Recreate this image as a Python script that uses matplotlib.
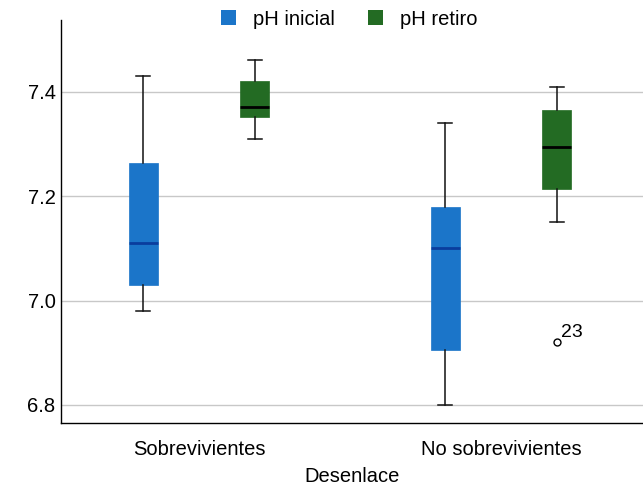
import matplotlib.pyplot as plt

plt.rcParams['font.family'] = ['Liberation Sans', 'DejaVu Sans']

groups = ['Sobrevivientes', 'No sobrevivientes']
series = ['pH inicial', 'pH retiro']
colors = ['#1b75c9', '#236b23']
median_colors = ['#0a3d9e', '#000000']

# per series: one value per group
whis_lo = {'pH inicial': [6.98, 6.80], 'pH retiro': [7.31, 7.15]}
q1 = {'pH inicial': [7.03, 6.905], 'pH retiro': [7.352, 7.213]}
med = {'pH inicial': [7.111, 7.10], 'pH retiro': [7.371, 7.294]}
q3 = {'pH inicial': [7.263, 7.179], 'pH retiro': [7.421, 7.365]}
whis_hi = {'pH inicial': [7.43, 7.34], 'pH retiro': [7.462, 7.41]}
fliers = {'pH inicial': [[], []], 'pH retiro': [[], [6.92]]}
flier_labels = {'pH inicial': [[], []], 'pH retiro': [[], ['23']]}

fig = plt.figure(figsize=(6.43, 4.88), dpi=100)
ax = fig.add_axes([0.095, 0.133, 0.905, 0.826])

offsets = [-0.185, 0.185]
width = 0.096
for s, name in enumerate(series):
    stats = []
    for g in range(len(groups)):
        stats.append(dict(whislo=whis_lo[name][g], q1=q1[name][g], med=med[name][g],
                          q3=q3[name][g], whishi=whis_hi[name][g], fliers=fliers[name][g]))
    pos = [g + offsets[s] for g in range(len(groups))]
    ax.bxp(stats, positions=pos, widths=width, patch_artist=True, showfliers=True,
           boxprops=dict(facecolor=colors[s], edgecolor=colors[s], linewidth=0.5),
           medianprops=dict(color=median_colors[s], linewidth=2),
           whiskerprops=dict(color='#111111', linewidth=1.1),
           capprops=dict(color='#111111', linewidth=1.1),
           capwidths=0.046,
           flierprops=dict(marker='o', markersize=5, markerfacecolor='white',
                           markeredgecolor='black', markeredgewidth=1))
    for g in range(len(groups)):
        for v, lab in zip(fliers[name][g], flier_labels[name][g]):
            ax.annotate(lab, (pos[g], v), xytext=(3, 1), textcoords='offset points',
                        fontsize=14, ha='left', va='bottom')

ax.set_xlim(-0.457, 1.47)
ax.set_ylim(6.765, 7.538)
ax.set_yticks([6.8, 7.0, 7.2, 7.4])
ax.set_yticklabels(['6.8', '7.0', '7.2', '7.4'])
ax.set_xticks(range(len(groups)))
ax.set_xticklabels(groups)
ax.tick_params(axis='both', length=0, labelsize=14.5)
ax.tick_params(axis='y', pad=4)
ax.tick_params(axis='x', pad=12)
ax.yaxis.grid(True, color='#c8c8c8', linewidth=1)
ax.set_axisbelow(True)
for sp in ['top', 'right']:
    ax.spines[sp].set_visible(False)
ax.spines['left'].set_linewidth(1)
ax.spines['bottom'].set_linewidth(1)
ax.set_xlabel('Desenlace', fontsize=14.5, labelpad=6)

handles = [plt.Rectangle((0, 0), 1, 1, facecolor=c, edgecolor='none') for c in colors]
fig.legend(handles, series, loc='center', bbox_to_anchor=(0.543, 0.961), ncol=2,
           frameon=False, fontsize=14.5, handlelength=0.75, handleheight=0.75,
           handletextpad=0.85, columnspacing=1.65)

fig.savefig('out.png', dpi=100)
